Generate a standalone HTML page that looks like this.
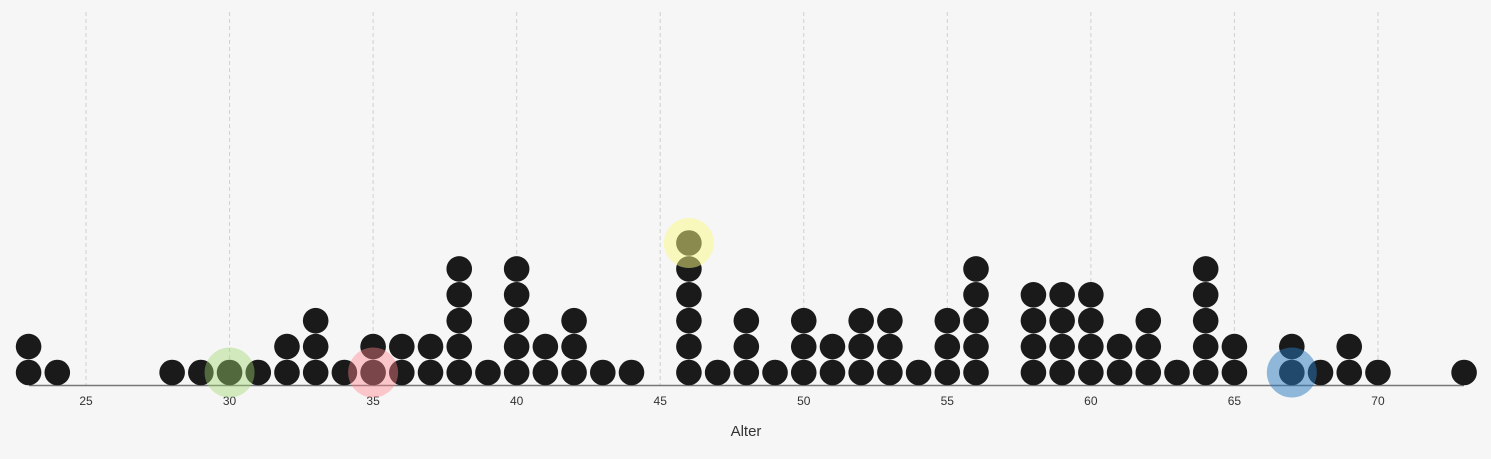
<!DOCTYPE html>
<html><head><meta charset="utf-8"><style>
html,body{margin:0;padding:0;background:#f6f6f6;}
svg{display:block;font-family:"Liberation Sans",sans-serif;}
</style></head><body>
<svg id="chart" width="1491" height="459" viewBox="0 0 1491 459">
<rect width="1491" height="459" fill="#f6f6f6"/>
<g id="grid"></g>
<line x1="29" x2="1464" y1="385.5" y2="385.5" stroke="#777" stroke-width="1.5"/>
<g id="ticks"></g>
<g id="dots"></g>
<g id="hl"></g>
<text x="746" y="436" text-anchor="middle" font-size="15" fill="#333">Alter</text>
</svg>
<script>
const ages=[23,24,28,29,30,31,32,33,34,35,36,37,38,39,40,41,42,43,44,46,47,48,49,50,51,52,53,54,55,56,58,59,60,61,62,63,64,65,67,68,69,70,73];
const counts=[2,1,1,1,1,1,2,3,1,2,2,2,5,1,5,2,3,1,1,6,1,3,1,3,2,3,3,1,3,5,4,4,4,2,3,1,5,2,2,1,2,1,1];
const tickValues=[25,30,35,40,45,50,55,60,65,70];
const hlAges=[30,35,46,67];
const hlRows=[1,1,6,1];
const hlColors=['rgba(160,215,110,0.42)','rgba(255,130,140,0.42)','rgba(250,250,130,0.5)','rgba(40,120,190,0.5)'];
const NS='http://www.w3.org/2000/svg';
const x=v=>86+(v-25)*28.71;
const y=r=>372.5-(r-1)*25.9;
const mk=(t,a,p)=>{const e=document.createElementNS(NS,t);for(const k in a)e.setAttribute(k,a[k]);p.appendChild(e);return e;};
const grid=document.getElementById('grid'),ticks=document.getElementById('ticks'),dots=document.getElementById('dots'),hl=document.getElementById('hl');
tickValues.forEach(v=>{
 const l=mk('line',{x1:x(v),x2:x(v),y1:12,y2:385,stroke:'#d0d0d0','stroke-dasharray':'4,3'},grid);
 
 
 const t=mk('text',{x:x(v),y:405,'text-anchor':'middle','font-size':12,fill:'#333'},ticks);
 t.textContent=v;
 
 
});
ages.forEach((a,i)=>{for(let r=1;r<=counts[i];r++){
 const c=mk('circle',{cx:x(a),cy:y(r),r:12.8,fill:'#1a1a1a'},dots);
 
 
}});
hlAges.forEach((a,i)=>{
 const c=mk('circle',{cx:x(a),cy:y(hlRows[i]),r:25,fill:hlColors[i]},hl);
 
 
});
</script>
</body></html>
